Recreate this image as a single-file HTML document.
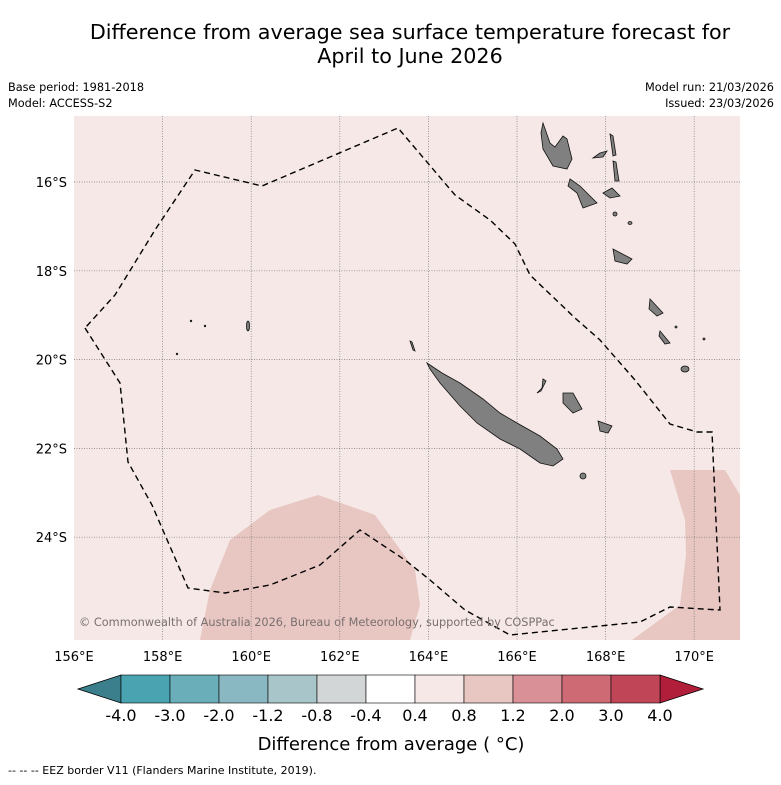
<!DOCTYPE html>
<html><head><meta charset="utf-8"><style>
body{margin:0;width:781px;height:781px;background:#fff;font-family:"DejaVu Sans","Liberation Sans",sans-serif;overflow:hidden}
</style></head><body>
<svg width="781" height="781" viewBox="0 0 781 781" xmlns="http://www.w3.org/2000/svg">
<g font-size="20.7" text-anchor="middle" fill="#000">
<text x="410" y="39">Difference from average sea surface temperature forecast for</text>
<text x="410" y="63">April to June 2026</text>
</g>
<g font-size="11.3" fill="#000">
<text x="8" y="91">Base period: 1981-2018</text>
<text x="8" y="107">Model: ACCESS-S2</text>
<text x="774" y="91" text-anchor="end">Model run: 21/03/2026</text>
<text x="774" y="107" text-anchor="end">Issued: 23/03/2026</text>
</g>
<g id="map">
<rect x="74" y="116" width="666" height="524" fill="#f5e8e6"/>
<polygon fill="#e8c6c1" points="200,640 210,590 230,540 270,510 318,495 375,515 415,570 420,605 410,640"/>
<polygon fill="#e8c6c1" points="670,470 725,470 740,495 740,640 632,640 680,605 686,555 685,520"/>
<g id="grid" stroke="#777" stroke-width="0.7" stroke-dasharray="1,1.5"></g>
<g fill="#808080" stroke="#111" stroke-width="0.8">
<polygon points="427,363 442,373 460,383 483,399 500,413 517,423 540,436 557,449 563,459 553,466 540,463 520,449 500,439 477,423 460,406 440,383 430,369"/>
<polygon points="543,123 550,143 555,147 563,136 567,139 572,159 567,169 553,166 543,149 541,133"/>
<polygon points="570,179 580,186 597,203 583,208 577,193 568,186"/>
<polygon points="613,249 632,259 627,264 615,261"/>
<polygon points="650,299 663,313 657,316 649,309"/>
<polygon points="660,331 670,343 665,344 659,336"/>
<ellipse cx="685" cy="369" rx="4" ry="3"/>
<polygon points="610,134 613,136 616,155 613,156"/>
<polygon points="613,161 616,162 619,181 615,181"/>
<polygon points="593,158 600,153 607,151 603,157"/>
<polygon points="603,193 612,188 620,196 610,198"/>
<ellipse cx="615" cy="214" rx="2" ry="2"/>
<ellipse cx="630" cy="223" rx="2" ry="1.5"/>
<polygon points="563,393 573,393 582,409 573,413 563,403"/>
<polygon points="598,421 612,426 608,433 600,431"/>
<polygon points="543,379 546,381 541,391 537,393 542,388"/>
<polygon points="410,341 412,342 415,351 413,350"/>
<ellipse cx="583" cy="476" rx="3" ry="3"/>
<ellipse cx="248" cy="326" rx="1.5" ry="5"/>
<ellipse cx="191" cy="321" rx="0.8" ry="0.8"/>
<ellipse cx="205" cy="326" rx="0.8" ry="0.8"/>
<ellipse cx="177" cy="354" rx="0.8" ry="0.8"/>
<ellipse cx="676" cy="327" rx="1" ry="1"/>
<ellipse cx="704" cy="339" rx="1" ry="1"/>
</g>
<polyline fill="none" stroke="#000" stroke-width="1.4" stroke-dasharray="6,4" points="85,328 120,383 128,462 152,505 188,588 225,593 270,585 320,565 360,530 405,560 430,580 465,610 510,635 560,630 640,622 670,607 720,610 712,432 697,432 670,424 635,380 600,340 575,318 530,275 515,244 490,220 455,195 398,128 262,186 195,170 155,230 115,295 85,328"/>
<text x="79" y="626" font-size="11.3" fill="#7a7070">© Commonwealth of Australia 2026, Bureau of Meteorology, supported by COSPPac</text>
</g>
<g id="axes" font-size="13" fill="#000"></g>
<g id="cbar"></g>
<text x="391" y="750" font-size="18" text-anchor="middle">Difference from average ( °C)</text>
<text x="8" y="774" font-size="11">-- -- -- EEZ border V11 (Flanders Marine Institute, 2019).</text>
</svg>
<script>
const lonTicks=[156,158,160,162,164,166,168,170];
const latTicks=[16,18,20,22,24];
const cbarTickLabels=["-4.0","-3.0","-2.0","-1.2","-0.8","-0.4","0.4","0.8","1.2","2.0","3.0","4.0"];
const cbarColors=["#4aa3b0","#6aaeb9","#8ab8c2","#a8c6ca","#d3d6d6","#ffffff","#f5e8e6","#e8c6c1","#d99096","#ce6a74","#c04657"];
const NS="http://www.w3.org/2000/svg";
function xLon(l){return 74+(l-156)*44.3;}
function yLat(l){return 182+(l-16)*44.4;}
function mk(t,a,p){const e=document.createElementNS(NS,t);for(const k in a)e.setAttribute(k,a[k]);p.appendChild(e);return e;}
const grid=document.getElementById('grid'),axes=document.getElementById('axes'),cb=document.getElementById('cbar');
lonTicks.forEach(l=>{const x=xLon(l);
 if(l>156){const g=mk('line',{x1:x,x2:x,y1:116,y2:640},grid);
 
 }
 const t=mk('text',{x:x,y:661,'text-anchor':'middle'},axes);t.textContent=l+'°E';
 
 });
latTicks.forEach(l=>{const y=yLat(l);
 const g=mk('line',{x1:74,x2:740,y1:y,y2:y},grid);
 
 
 const t=mk('text',{x:67,y:y+5,'text-anchor':'end'},axes);t.textContent=l+'°S';
 
 });
const cbX0=121,cbX1=660,cbTop=675,cbBot=703,cbW=(cbX1-cbX0)/cbarColors.length;
const lt=mk('polygon',{points:`78,689 ${cbX0},${cbTop} ${cbX0},${cbBot}`,fill:'#3a7f8b',stroke:'#000','stroke-width':0.8},cb);


const rt=mk('polygon',{points:`703,689 ${cbX1},${cbTop} ${cbX1},${cbBot}`,fill:'#b01e3a',stroke:'#000','stroke-width':0.8},cb);


cbarColors.forEach((c,i)=>{const r=mk('rect',{x:cbX0+i*cbW,y:cbTop,width:cbW,height:cbBot-cbTop,fill:c,stroke:'#000','stroke-width':0.6},cb);
 
 });
cbarTickLabels.forEach((s,i)=>{const t=mk('text',{x:cbX0+i*cbW,y:721,'font-size':16,'text-anchor':'middle'},cb);t.textContent=s;
 
 });
</script>
</body></html>
